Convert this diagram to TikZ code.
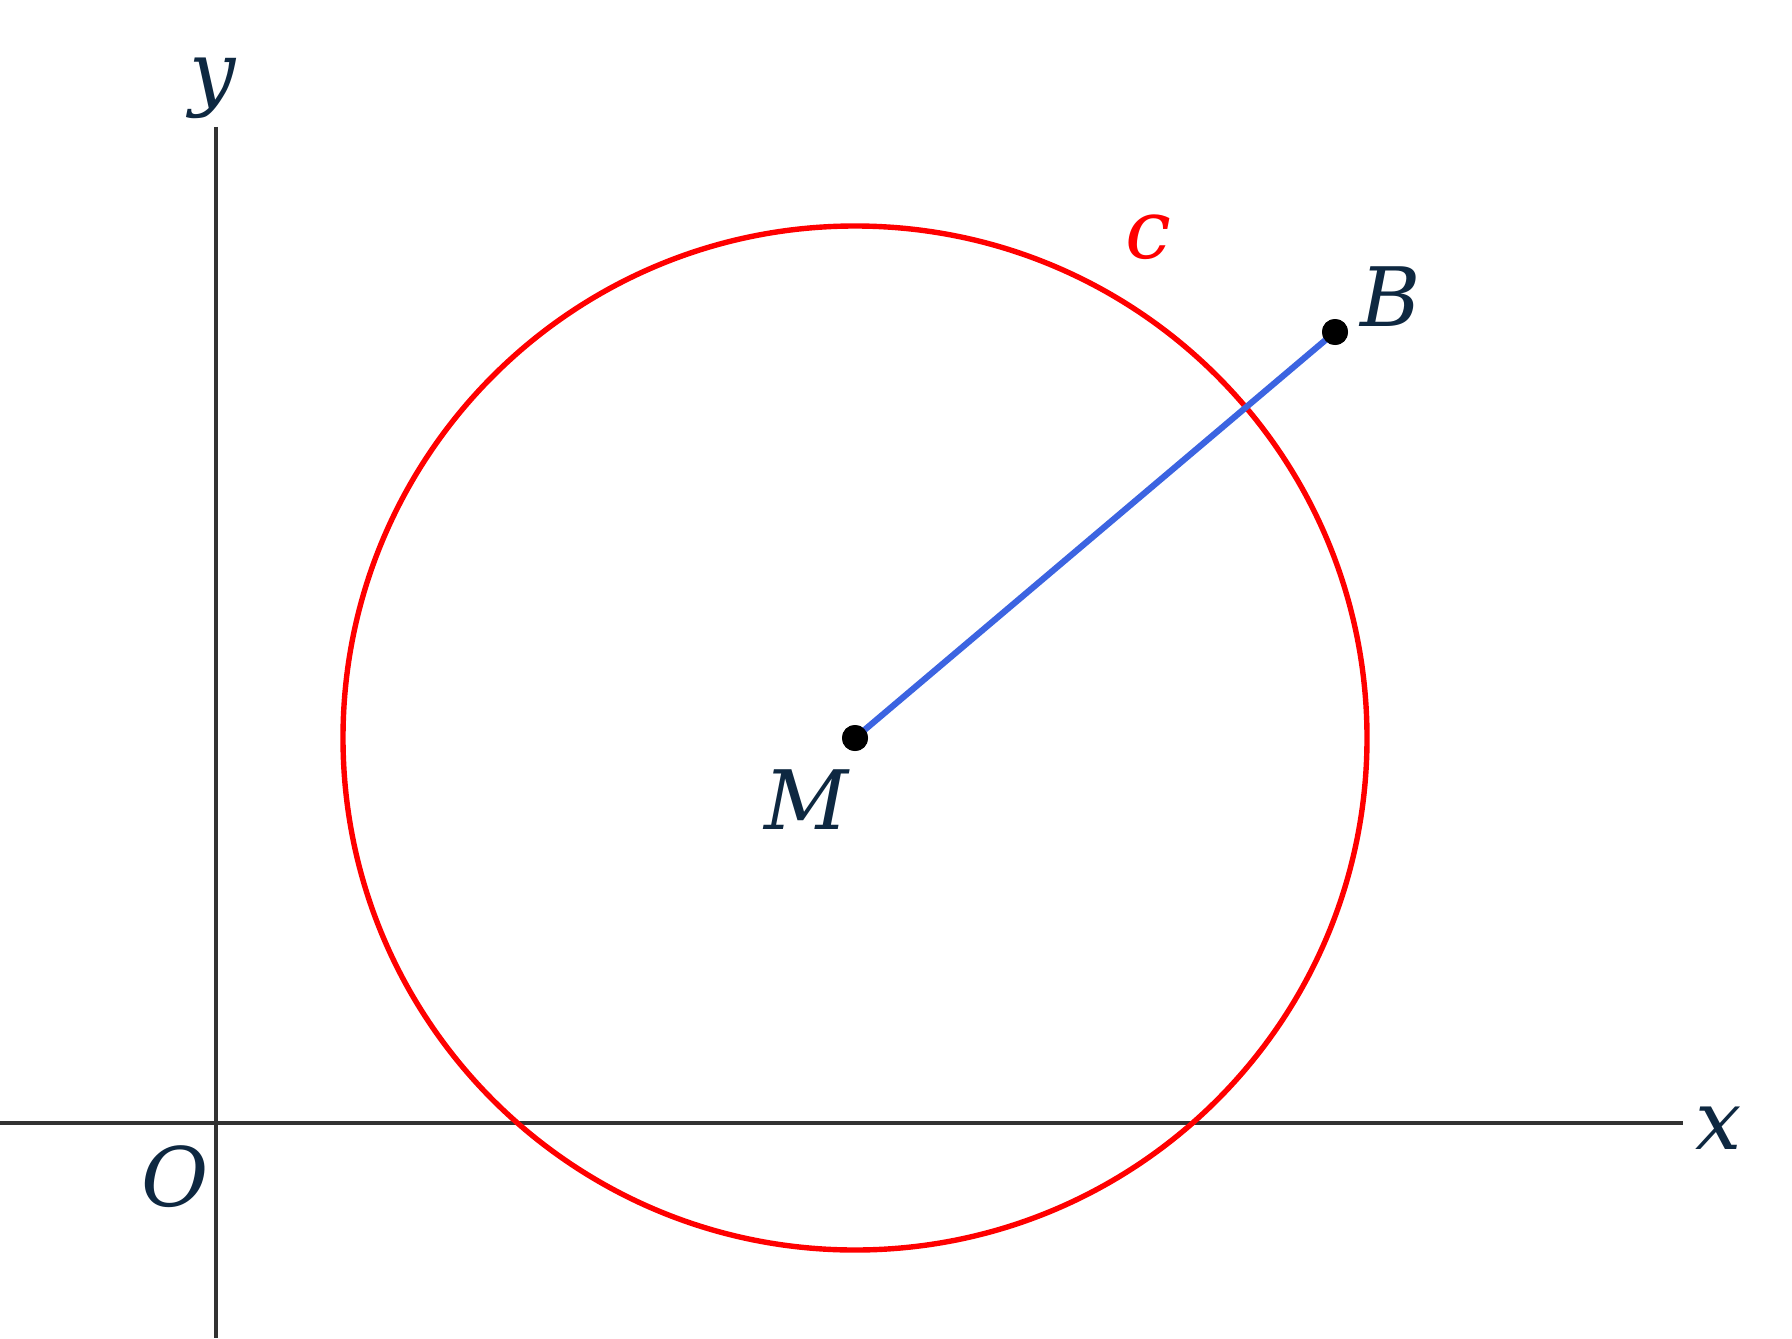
\documentclass[tikz,border=0pt]{standalone}
\usepackage{fontspec}
\setmainfont{DejaVu Serif}
\definecolor{txt}{RGB}{14,40,65}
\definecolor{circ}{RGB}{255,0,0}
\definecolor{seg}{RGB}{60,100,225}
\definecolor{axis}{RGB}{50,50,50}
\begin{document}
\begin{tikzpicture}[x=0.5pt,y=-0.5pt,
  lbl/.style={text=txt,font=\fontsize{41}{48}\selectfont\itshape,inner sep=0pt},
  axisline/.style={draw=axis,line width=1.6pt},
  dot/.style={circle,fill=black,inner sep=0pt,minimum size=13pt}]
\useasboundingbox (0,0) rectangle (1792,1338);
\fill[white] (0,0) rectangle (1792,1338);
\coordinate (xl) at (0,1123);
\coordinate (xr) at (1683,1123);
\coordinate (yt) at (216,127);
\coordinate (yb) at (216,1338);
\draw[axisline] (xl) -- (xr);
\draw[axisline] (yt) -- (yb);
\coordinate (Mc) at (855,738);
\draw[circ,line width=2.7pt] (Mc) circle[radius=512];
\node[dot] (M) at (855,738) {};
\node[dot] (B) at (1335,332) {};
\draw[seg,line width=3.1pt] (M.center) -- (B.center);
\node[dot] at (855,738) {};
\node[dot] at (1335,332) {};
\node[lbl] (ly) at (213,88) {y};
\node[lbl] (lx) at (1719,1128) {x};
\node[lbl] (lO) at (175,1177) {O};
\node[lbl] (lM) at (806,800) {M};
\node[lbl] (lB) at (1391,297) {B};
\node[lbl,text=circ] (lc) at (1148,237) {c};
\end{tikzpicture}
\end{document}
